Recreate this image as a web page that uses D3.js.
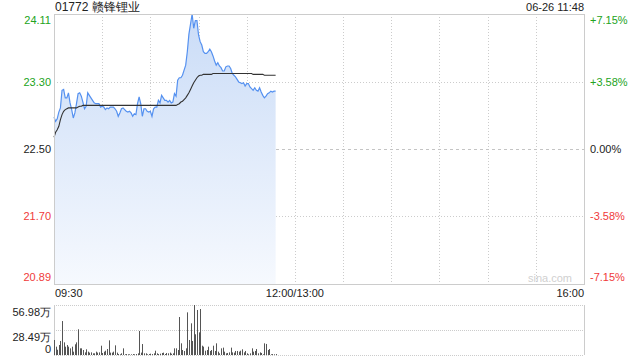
<!DOCTYPE html>
<html>
<head>
<meta charset="utf-8">
<title>01772 赣锋锂业</title>
<script src="https://d3js.org/d3.v7.min.js"></script>
<style>
  body { margin: 0; background: #fff; }
  svg text { font-family: "Liberation Sans", Arial, sans-serif; font-size: 11px; }
</style>
</head>
<body>
<div id="chart"></div>
<script>
// data, one value per trading minute from 09:30
var stockName = "01772 赣锋锂业";
var stamp = "06-26 11:48";
var prevClose = 22.50;
var priceTicks = [24.11, 23.30, 22.50, 21.70, 20.89];
var pctTicks = ["+7.15%", "+3.58%", "0.00%", "-3.58%", "-7.15%"];
var volTicks = [56.98, 28.49, 0];
var timeLabels = ["09:30", "12:00/13:00", "16:00"];

var price = [22.88, 22.83, 22.86, 22.94, 22.99, 23.20, 23.21, 23.11, 23.11, 23.17,
  23.05, 22.97, 22.87, 22.93, 23.04, 23.16, 23.17, 23.13, 23.06, 22.98,
  23.01, 23.17, 23.14, 23.11, 23.08, 23.05, 23.04, 23.04, 23.04, 23.00,
  23.01, 23.00, 22.97, 22.99, 22.98, 23.00, 23.00, 23.00, 22.98, 22.95,
  22.89, 22.93, 22.98, 22.99, 22.97, 22.95, 22.94, 22.95, 22.93, 22.89,
  22.92, 22.91, 23.04, 23.12, 23.04, 22.89, 22.98, 22.98, 22.95, 22.94,
  22.95, 22.89, 22.98, 23.00, 23.00, 23.08, 23.05, 23.14, 23.11, 23.08,
  23.08, 23.06, 23.08, 23.05, 23.06, 23.16, 23.13, 23.32, 23.35, 23.35,
  23.38, 23.44, 23.50, 23.66, 23.87, 23.99, 24.11, 23.94, 24.03, 24.03,
  23.86, 23.78, 23.74, 23.66, 23.64, 23.64, 23.66, 23.69, 23.66, 23.61,
  23.55, 23.50, 23.53, 23.49, 23.47, 23.43, 23.43, 23.48, 23.49, 23.49,
  23.46, 23.40, 23.38, 23.36, 23.33, 23.30, 23.29, 23.28, 23.29, 23.25,
  23.28, 23.28, 23.24, 23.22, 23.20, 23.23, 23.20, 23.19, 23.23, 23.18,
  23.14, 23.11, 23.13, 23.16, 23.17, 23.19, 23.18, 23.19, 23.19];

var avgPrice = [22.64, 22.70, 22.73, 22.77, 22.85, 22.91, 22.95, 22.97, 22.98, 22.99,
  22.99, 22.99, 22.99, 22.99, 22.99, 23.00, 23.01, 23.01, 23.02, 23.02,
  23.02, 23.02, 23.02, 23.02, 23.02, 23.02, 23.02, 23.02, 23.02, 23.02,
  23.02, 23.02, 23.02, 23.02, 23.02, 23.02, 23.02, 23.02, 23.02, 23.02,
  23.02, 23.02, 23.02, 23.02, 23.02, 23.02, 23.02, 23.02, 23.02, 23.02,
  23.02, 23.02, 23.02, 23.02, 23.02, 23.02, 23.02, 23.02, 23.02, 23.02,
  23.02, 23.02, 23.02, 23.02, 23.02, 23.02, 23.02, 23.02, 23.02, 23.02,
  23.02, 23.02, 23.02, 23.02, 23.02, 23.02, 23.02, 23.03, 23.04, 23.06,
  23.07, 23.09, 23.11, 23.14, 23.17, 23.21, 23.25, 23.29, 23.32, 23.35,
  23.37, 23.38, 23.38, 23.39, 23.39, 23.39, 23.39, 23.39, 23.39, 23.40,
  23.40, 23.40, 23.40, 23.40, 23.40, 23.40, 23.40, 23.40, 23.40, 23.40,
  23.40, 23.40, 23.40, 23.40, 23.40, 23.40, 23.40, 23.40, 23.40, 23.40,
  23.40, 23.40, 23.40, 23.40, 23.39, 23.39, 23.39, 23.39, 23.39, 23.39,
  23.39, 23.38, 23.38, 23.38, 23.38, 23.38, 23.38, 23.38, 23.38];

// volume in 万
var volume = [17.1, 9.5, 6.0, 11.4, 16.0, 38.7, 14.4, 9.5, 11.4, 9.5,
  7.6, 9.5, 3.8, 12.2, 14.4, 29.3, 7.6, 7.6, 5.7, 3.0,
  6.5, 3.8, 2.7, 3.0, 1.9, 1.9, 3.8, 2.7, 3.0, 10.6,
  2.3, 3.8, 4.9, 6.8, 16.7, 2.7, 2.7, 3.8, 11.0, 2.7,
  1.1, 0.8, 1.9, 7.6, 0.8, 1.1, 0.8, 0.8, 0.8, 1.1,
  0.8, 1.1, 1.9, 27.4, 2.7, 12.5, 1.9, 1.9, 0.8, 1.1,
  1.5, 1.1, 1.9, 4.9, 1.9, 1.1, 1.5, 2.3, 2.7, 1.1,
  2.3, 1.9, 2.7, 1.5, 1.9, 7.6, 7.6, 5.7, 43.3, 13.3,
  5.7, 4.6, 7.6, 48.6, 17.1, 36.1, 16.0, 56.98, 23.6, 51.3,
  25.8, 52.4, 10.6, 9.5, 4.9, 5.7, 9.5, 4.6, 5.7, 10.6,
  4.6, 13.3, 3.8, 1.9, 7.6, 8.4, 3.8, 1.9, 2.3, 3.0,
  8.4, 3.0, 2.7, 4.6, 4.6, 3.8, 4.9, 6.5, 3.0, 4.6,
  1.9, 0.8, 1.9, 7.6, 3.8, 4.6, 6.8, 1.9, 3.0, 2.3,
  0.8, 13.3, 12.6, 5.7, 6.8, 0.8, 1.1, 0.8, 1.1];

var W = 640, H = 360;
var pLeft = 54, pRight = 584;
var pTop = 14, pBottom = 284;
var vTop = 305, vBottom = 355;

var svg = d3.select("#chart").append("svg")
  .attr("width", W).attr("height", H);

var x = d3.scaleLinear().domain([0, 330]).range([pLeft, pRight]);
var y = d3.scaleLinear().domain([20.89, 24.11]).range([pBottom, pTop]);
var yv = d3.scaleLinear().domain([0, 56.98]).range([vBottom, vTop]);

var grad = svg.append("defs").append("linearGradient")
  .attr("id", "fillGrad").attr("x1", 0).attr("y1", 0).attr("x2", 0).attr("y2", 1);
grad.append("stop").attr("offset", "0%").attr("stop-color", "#cadcf7");
grad.append("stop").attr("offset", "100%").attr("stop-color", "#f6f9fe");

// vertical grid every 30 minutes
var gx = d3.range(30, 330, 30);
svg.append("g").selectAll("line").data(gx).enter().append("line")
  .attr("x1", function(d) { return Math.round(x(d)) + 0.5; })
  .attr("x2", function(d) { return Math.round(x(d)) + 0.5; })
  .attr("y1", pTop).attr("y2", pBottom)
  .attr("stroke", "#ccc").attr("stroke-dasharray", "1,2");

// horizontal grid
svg.append("g").selectAll("line").data([23.30, 21.70]).enter().append("line")
  .attr("x1", pLeft).attr("x2", pRight)
  .attr("y1", function(d) { return Math.round(y(d)) + 0.5; })
  .attr("y2", function(d) { return Math.round(y(d)) + 0.5; })
  .attr("stroke", "#ccc").attr("stroke-dasharray", "1,2");
svg.append("line")
  .attr("x1", pLeft).attr("x2", pRight)
  .attr("y1", Math.round(y(prevClose)) + 0.5).attr("y2", Math.round(y(prevClose)) + 0.5)
  .attr("stroke", "#c4c4c4").attr("stroke-dasharray", "3,3");

// area + price line
var idx = d3.range(price.length);
var area = d3.area()
  .x(function(i) { return x(i); })
  .y0(pBottom)
  .y1(function(i) { return y(price[i]); });
svg.append("path").datum(idx)
  .attr("fill", "url(#fillGrad)")
  .attr("d", area);

var line = d3.line()
  .x(function(i) { return x(i); })
  .y(function(i) { return y(price[i]); });
svg.append("path").datum(idx)
  .attr("fill", "none").attr("stroke", "#5591f0").attr("stroke-width", 1.2)
  .attr("d", line);

var avgLine = d3.line()
  .x(function(i) { return x(i); })
  .y(function(i) { return y(avgPrice[i]); });
svg.append("path").datum(idx)
  .attr("fill", "none").attr("stroke", "#333").attr("stroke-width", 1.1)
  .attr("d", avgLine);

// frame
svg.append("rect")
  .attr("x", pLeft + 0.5).attr("y", pTop + 0.5)
  .attr("width", pRight - pLeft).attr("height", pBottom - pTop)
  .attr("fill", "none").attr("stroke", "#ccc");

// watermark
svg.append("text").attr("x", pRight - 12).attr("y", pBottom - 2)
  .attr("text-anchor", "end").attr("fill", "#d0d0d0")
  .text("sina.com");

// price labels
var colorOf = function(i) { return i < 2 ? "#22a322" : (i == 2 ? "#222" : "#f03a3a"); };
var dyOf = function(i) { return i == 0 ? 6 : (i == 4 ? -7 : 0); };
svg.append("g").selectAll("text").data(priceTicks).enter().append("text")
  .attr("x", pLeft - 3)
  .attr("y", function(d, i) { return y(d) + dyOf(i); })
  .attr("dy", "0.35em")
  .attr("text-anchor", "end")
  .attr("fill", function(d, i) { return colorOf(i); })
  .text(function(d) { return d.toFixed(2); });
svg.append("g").selectAll("text").data(pctTicks).enter().append("text")
  .attr("x", pRight + 6)
  .attr("y", function(d, i) { return y(priceTicks[i]) + dyOf(i); })
  .attr("dy", "0.35em")
  .attr("fill", function(d, i) { return colorOf(i); })
  .text(function(d) { return d; });

// title + time stamp
svg.append("text").attr("x", pLeft + 1).attr("y", 11)
  .attr("fill", "#222").style("font-size", "12px").text(stockName);
svg.append("text").attr("x", pRight).attr("y", 11)
  .attr("text-anchor", "end").attr("fill", "#222").text(stamp);

// time labels
svg.append("text").attr("x", pLeft + 1).attr("y", 297).attr("fill", "#222").text(timeLabels[0]);
svg.append("text").attr("x", x(150)).attr("y", 297).attr("text-anchor", "middle")
  .attr("fill", "#222").text(timeLabels[1]);
svg.append("text").attr("x", pRight).attr("y", 297).attr("text-anchor", "end")
  .attr("fill", "#222").text(timeLabels[2]);

// volume panel
svg.append("g").selectAll("line").data(volTicks).enter().append("line")
  .attr("x1", pLeft).attr("x2", pRight)
  .attr("y1", function(d) { return Math.round(yv(d)) + 0.5; })
  .attr("y2", function(d) { return Math.round(yv(d)) + 0.5; })
  .attr("stroke", "#ccc").attr("stroke-dasharray", "1,1");
svg.append("line").attr("x1", pLeft + 0.5).attr("x2", pLeft + 0.5)
  .attr("y1", vTop).attr("y2", vBottom).attr("stroke", "#ccc");
svg.append("line").attr("x1", pRight + 0.5).attr("x2", pRight + 0.5)
  .attr("y1", vTop).attr("y2", vBottom).attr("stroke", "#ccc");

svg.append("g").selectAll("rect").data(volume).enter().append("rect")
  .attr("x", function(d, i) { return Math.round(x(i)); })
  .attr("width", 1)
  .attr("y", function(d) { return yv(d); })
  .attr("height", function(d) { return vBottom - yv(d); })
  .attr("fill", "#555");

var vdy = [7, 7, -6];
svg.append("g").selectAll("text").data(volTicks).enter().append("text")
  .attr("x", pLeft - 3)
  .attr("y", function(d, i) { return yv(d) + vdy[i]; })
  .attr("dy", "0.35em")
  .attr("text-anchor", "end")
  .attr("fill", "#222")
  .text(function(d) { return d == 0 ? "0" : d.toFixed(2) + "万"; });
</script>
</body>
</html>
